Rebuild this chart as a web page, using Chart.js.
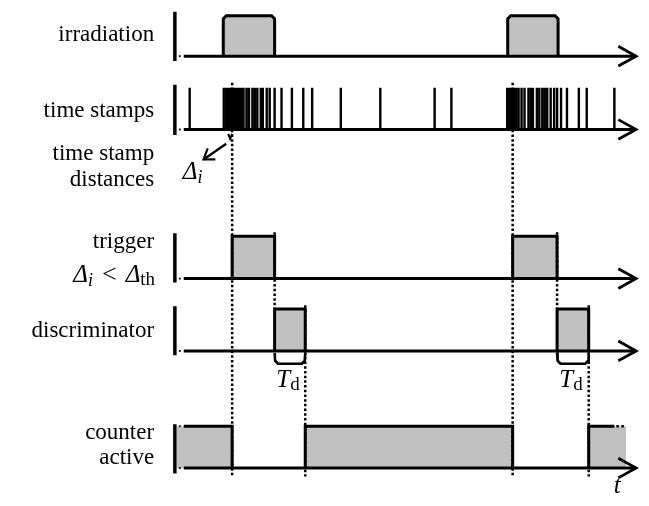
<!DOCTYPE html>
<html>
<head>
<meta charset="utf-8">
<script src="https://cdn.jsdelivr.net/npm/chart.js@4"></script>
<style>
  html, body { margin: 0; padding: 0; background: #fff; }
  canvas { display: block; }
</style>
</head>
<body>
<canvas id="timing" width="649" height="506"></canvas>
<script>
// ---- signal data (time axis units) ----
const irradiationPulses = [[222, 274], [510, 561]];
const timeStamps = [
  188, 222.5, 225, 227, 229, 230.5, 232, 233.5, 235, 236.5, 238, 239.5, 241, 242.5,
  245.5, 248, 251.5, 254, 256.5, 260, 262, 266, 269, 274, 281, 291.5, 303, 312,
  341, 381, 436, 453,
  509.5, 511, 512.5, 514, 515.5, 517, 518.5, 521, 524, 527, 531, 533.5, 535.5,
  539.5, 542, 545, 547.5, 550, 553.5, 557, 560, 564, 570, 582, 590, 618
];
const triggerPulses = [[231, 274], [515, 560]];
const discriminatorPulses = [[274, 305], [560, 592]];
const counterActivePulses = [[175, 231], [305, 515], [592, 630]];

// edges that are carried down through the rows
const triggerRise = [231, 515];
const triggerFall = [274, 560];
const discriminatorFall = [305, 592];

// ---- text ----
const rowLabelText = ['irradiation', 'time stamps', 'time stamp', 'distances',
                      'trigger', 'discriminator', 'counter', 'active'];
const timeAxisText = 't';

// ---- layout ----
const W = 649, H = 506;
const rows = {
  irradiation:   { base: 53,    high: 12,  barTop: 8,   barBottom: 58 },
  stamps:        { base: 127.5, high: 85,  barTop: 82,  barBottom: 133 },
  trigger:       { base: 279,   high: 236, barTop: 233, barBottom: 283 },
  discriminator: { base: 352.5, high: 310, barTop: 307, barBottom: 357 },
  counter:       { base: 471.5, high: 429, barTop: 427, barBottom: 477 }
};
const barX = 173, axisStart = 182, axisEnd = 640, arrowLen = 18, arrowHalf = 10;
const dotX = 178;
const labelRight = 152;
const labelBaselines = [38, 115, 158, 185, 248, 338, 442, 467];
const serif = '"Liberation Serif", "DejaVu Serif", serif';
const INK = '#000', GREY = '#c0c0c0';

const P = (x, y) => ({ x, y });
const GAP = x => ({ x, y: null });

function lineSet(data, extra) {
  return Object.assign({
    data, borderColor: INK, borderWidth: 3, pointRadius: 0, fill: false,
    tension: 0, borderJoinStyle: 'miter', borderCapStyle: 'butt', order: 1
  }, extra || {});
}

const datasets = [];

// axes: left bar, baseline, arrow head
Object.values(rows).forEach(r => {
  datasets.push(lineSet([P(barX, r.barTop), P(barX, r.barBottom)], { borderWidth: 3.5 }));
  datasets.push(lineSet([P(axisStart, r.base), P(axisEnd, r.base)]));
  datasets.push(lineSet([P(axisEnd - arrowLen, r.base - arrowHalf), P(axisEnd, r.base),
                         P(axisEnd - arrowLen, r.base + arrowHalf)], { borderWidth: 2.8 }));
});

// small dots in front of each baseline
const dots = Object.values(rows).map(r => P(dotX, r.base));
dots.push(P(dotX, rows.counter.high));
datasets.push({ data: dots, showLine: false, pointRadius: 1.3, pointStyle: 'rect',
  pointBackgroundColor: INK, pointBorderWidth: 0, order: 0 });

// plain rectangular pulses
function pulseSet(r, a, b, rounded) {
  const c = rounded ? 3 : 0;
  const pts = rounded
    ? [P(a, r.base), P(a, r.high + c), P(a + c, r.high), P(b - c, r.high), P(b, r.high + c), P(b, r.base)]
    : [P(a, r.base), P(a, r.high), P(b, r.high), P(b, r.base)];
  return lineSet(pts, { fill: { value: r.base }, backgroundColor: GREY, order: 2 });
}
irradiationPulses.forEach(([a, b]) => datasets.push(pulseSet(rows.irradiation, a, b, true)));
triggerPulses.forEach(([a, b]) => datasets.push(pulseSet(rows.trigger, a, b)));
discriminatorPulses.forEach(([a, b]) => datasets.push(pulseSet(rows.discriminator, a, b)));

// counter: first pulse runs in from the left, last one runs out to the right
counterActivePulses.forEach(([a, b], i) => {
  const r = rows.counter;
  const first = i === 0, last = i === counterActivePulses.length - 1;
  datasets.push(lineSet([P(a, r.base), P(a, r.high), P(b, r.high), P(b, r.base)],
    { borderWidth: 0, fill: { value: r.base }, backgroundColor: GREY, order: 3 }));
  if (first) {
    datasets.push(lineSet([P(axisStart, r.high), P(b, r.high), P(b, r.base)]));
  } else if (last) {
    datasets.push(lineSet([P(a, r.base), P(a, r.high), P(b - 12, r.high)]));
    datasets.push(lineSet([P(b - 10, r.high), P(b, r.high)], { borderDash: [2.5, 2.5], borderWidth: 2.5 }));
  } else {
    datasets.push(lineSet([P(a, r.base), P(a, r.high), P(b, r.high), P(b, r.base)]));
  }
});

// time stamp ticks
const tickPts = [];
timeStamps.forEach(t => { tickPts.push(P(t, rows.stamps.base), P(t, rows.stamps.high), GAP(t)); });
datasets.push(lineSet(tickPts, { borderWidth: 2.4 }));

// dotted sync lines
const dotted = [];
triggerRise.forEach(t => dotted.push(P(t, 80), P(t, 480), GAP(t)));
triggerFall.forEach(t => dotted.push(P(t, rows.trigger.high - 4), P(t, rows.discriminator.high), GAP(t)));
discriminatorFall.forEach(t => dotted.push(P(t, rows.discriminator.high - 4), P(t, 480), GAP(t)));
datasets.push(lineSet(dotted, { borderWidth: 2.5, borderDash: [2.5, 2.2], order: 0 }));

// dead-time brackets under the discriminator pulses
const brackets = [];
discriminatorPulses.forEach(([a, b]) => {
  const y0 = rows.discriminator.base + 2, y1 = y0 + 11;
  brackets.push(P(a, y0), P(a + 0.5, y1 - 3), P(a + 3.5, y1), P(b - 3.5, y1), P(b - 0.5, y1 - 3), P(b, y0), GAP(b));
});
datasets.push(lineSet(brackets, { borderWidth: 2.6, borderJoinStyle: 'round' }));

// Δi marker under the first cluster and its pointer arrow
datasets.push(lineSet([P(227, 132), P(229, 137), P(231, 132)], { borderWidth: 2 }));
const tip = { x: 202, y: 158 }, tail = { x: 225, y: 142 };
datasets.push(lineSet([P(tail.x, tail.y), P(tip.x, tip.y)], { borderWidth: 2.2 }));
(function () {
  const ang = Math.atan2(tail.y - tip.y, tail.x - tip.x), L = 12, spread = 0.6;
  datasets.push(lineSet([
    P(tip.x + L * Math.cos(ang - spread), tip.y + L * Math.sin(ang - spread)),
    P(tip.x, tip.y),
    P(tip.x + L * Math.cos(ang + spread), tip.y + L * Math.sin(ang + spread))
  ], { borderWidth: 2.2 }));
})();

// ---- text drawing ----
// runs: {t, font, dy} pieces; {gap} adds fixed horizontal space
function drawRuns(ctx, runs, x, baseline, align) {
  const widths = runs.map(r => {
    if (r.gap) return r.gap;
    ctx.font = r.font; return ctx.measureText(r.t).width;
  });
  const total = widths.reduce((s, w) => s + w, 0);
  let cx = align === 'right' ? x - total : align === 'center' ? x - total / 2 : x;
  runs.forEach((r, i) => {
    if (!r.gap) {
      ctx.font = r.font;
      ctx.fillText(r.t, cx, baseline + (r.dy || 0));
    }
    cx += widths[i];
  });
}

const textPlugin = {
  id: 'timingText',
  afterDraw(chart) {
    const ctx = chart.ctx, xs = chart.scales.x, ys = chart.scales.y;
    const px = v => xs.getPixelForValue(v), py = v => ys.getPixelForValue(v);
    ctx.save();
    ctx.fillStyle = INK;
    ctx.textBaseline = 'alphabetic';
    ctx.textAlign = 'left';
    const main = `23px ${serif}`;
    const it = `italic 25px ${serif}`;
    const sub = `italic 18px ${serif}`;
    const subUp = `19px ${serif}`;
    rowLabelText.forEach((t, i) => {
      drawRuns(ctx, [{ t, font: main }], px(labelRight), py(labelBaselines[i]), 'right');
    });
    // Δi < Δth
    drawRuns(ctx, [
      { t: 'Δ', font: it }, { t: 'i', font: sub, dy: 4 }, { gap: 9 },
      { t: '<', font: `26px ${serif}` }, { gap: 9 },
      { t: 'Δ', font: it }, { t: 'th', font: subUp, dy: 3 }
    ], px(labelRight + 1), py(282), 'right');
    // Δi pointer label
    drawRuns(ctx, [{ t: 'Δ', font: it }, { t: 'i', font: sub, dy: 4 }], px(181), py(178), 'left');
    // Td under each bracket
    discriminatorPulses.forEach(([a, b]) => {
      drawRuns(ctx, [{ t: 'T', font: it }, { t: 'd', font: `19px ${serif}`, dy: 3 }],
        px((a + b) / 2 - 2), py(389), 'center');
    });
    // time axis label
    drawRuns(ctx, [{ t: timeAxisText, font: it }], px(621), py(497), 'center');
    ctx.restore();
  }
};

new Chart(document.getElementById('timing'), {
  type: 'line',
  data: { datasets },
  options: {
    responsive: false,
    animation: false,
    devicePixelRatio: 1,
    spanGaps: false,
    layout: { padding: 0 },
    plugins: { legend: { display: false }, tooltip: { enabled: false } },
    scales: {
      x: { type: 'linear', min: 0, max: W, display: false },
      y: { type: 'linear', min: 0, max: H, reverse: true, display: false }
    }
  },
  plugins: [textPlugin]
});
</script>
</body>
</html>
